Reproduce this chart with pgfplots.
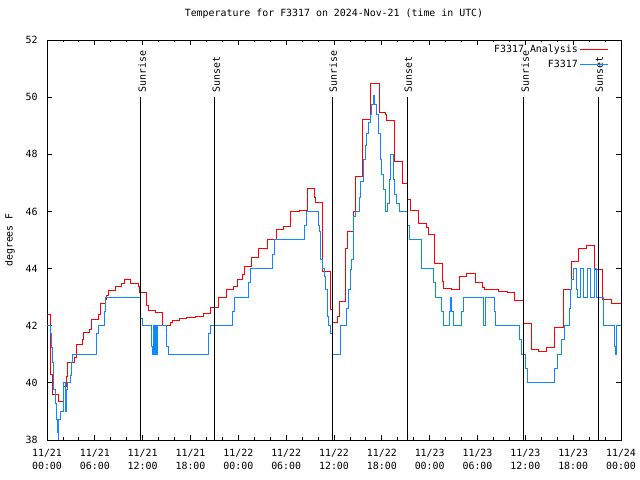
\documentclass[border=0pt]{standalone}
\usepackage{fontspec}
\setmainfont{DejaVu Sans Mono}
\usepackage{pgfplots}
\usepackage{pgfplotstable}
\pgfplotsset{compat=1.18}
\definecolor{obsblue}{RGB}{16,136,255}
\pgfplotstableread{
t v
0 42.4
0.5 40.3
0.63 39.6
1.5 39.34
2.05 39.87
2.47 40.22
2.55 40.72
3.39 40.89
3.64 41.35
4.47 41.5
4.56 41.77
5.39 41.88
5.64 42.22
6.48 42.4
6.65 42.67
6.73 42.78
7.28 42.9
7.49 43.07
7.69 43.22
8.53 43.37
9.37 43.48
9.7 43.6
10.5 43.46
11.46 43.37
11.58 43.17
12.5 42.7
12.71 42.54
13.55 42.45
14.51 42.01
15.43 42.1
15.76 42.19
16.6 42.26
17.52 42.29
18.57 42.33
19.61 42.42
20.53 42.64
21.49 42.98
22.54 43.27
23.37 43.37
23.87 43.6
24.55 43.78
24.75 44.07
25.67 44.39
26.51 44.71
27.68 45.02
28.73 45.37
29.64 45.47
30.57 45.99
31.65 46.03
32.65 46.81
33.53 46.5
33.74 46.32
34.58 43.9
35.5 42.55
35.79 42.12
36.46 42.32
36.67 42.84
37.47 44.71
37.63 45.31
38.43 46.0
38.64 47.22
39.6 49.2
40.64 50.48
41.65 49.46
42.4 49.38
42.61 49.18
43.53 47.74
44.57 46.98
45.2 46.4
45.6 46.02
46.58 45.58
47.54 45.45
47.83 45.2
48.59 44.16
49.59 43.54
49.72 43.31
50.68 43.25
51.72 43.72
52.65 43.83
53.69 43.51
54.65 43.35
54.82 43.27
56.61 43.2
57.74 43.15
58.62 42.88
59.75 42.08
60.71 41.15
61.63 41.11
62.68 41.24
63.72 41.94
64.77 43.27
65.73 44.24
66.73 44.71
67.7 44.79
68.65 43.95
69.7 42.9
70.83 42.78
72 42.78
}\analysis
\pgfplotstableread{
t v
0 42
0.5 41.73
0.59 41.24
0.71 40.7
0.84 39.77
1.05 39.26
1.21 38.72
1.34 38.26
1.42 38.0
1.5 38.72
1.67 39.0
2.05 40.0
2.3 39.0
2.47 39.75
2.63 40.0
2.89 40.24
3.05 40.7
3.18 41.0
6.23 41.73
6.44 42.0
7.19 42.5
7.36 43.0
11.79 42.26
12.0 42.0
13.05 41.27
13.2 41.0
13.34 42.0
13.46 41.0
13.6 42.0
13.7 41.0
13.85 42.0
15.01 41.27
15.22 41.0
20.24 41.73
20.45 42.0
23.25 42.5
23.5 43.0
25.26 43.5
25.51 44.0
28.27 44.5
28.52 45.0
32.28 45.5
32.57 46.0
34.04 45.5
34.16 45.29
34.33 44.3
34.5 44.0
34.75 43.72
34.96 43.25
35.16 42.32
35.37 42.0
35.58 41.73
35.79 41.0
36.84 42.0
37.59 42.6
37.8 43.25
38.01 43.95
38.22 44.3
38.43 45.82
38.64 46.0
39.18 46.5
39.3 47.04
39.68 47.8
39.9 48.3
40.1 48.73
40.3 49.1
40.52 49.38
40.72 49.73
40.93 50.04
41.14 49.73
41.35 49.38
41.56 48.73
41.77 47.8
41.98 47.3
42.19 46.75
42.4 46.28
42.52 46.0
42.7 46.28
42.9 47.1
43.11 48.0
43.44 47.1
43.65 46.6
43.78 46.28
44.2 46.0
45.2 45.5
45.45 45.02
47.0 44.0
48.46 43.5
48.75 43.0
49.51 42.5
49.72 42.0
50.47 42.5
50.64 43.0
50.76 42.5
50.97 42.0
52.02 42.5
52.23 43.0
54.73 42.0
55.0 43.0
56.11 42.5
56.28 42.0
59.25 41.5
59.46 41.0
59.96 40.5
60.25 40.0
63.72 40.5
64.06 41.0
64.56 41.5
64.85 42.0
65.48 42.6
65.69 43.25
65.85 43.6
66.02 44.0
66.36 43.25
66.5 43.0
66.86 44.0
67.27 43.0
67.78 44.0
68.2 43.0
68.65 44.0
68.95 43.0
69.78 42.0
71.16 41.27
71.33 41.0
71.46 42.0
72 42.0
}\observed
\begin{document}
\fontsize{9.95}{12}\selectfont
\begin{tikzpicture}[x=1bp,y=1bp]
\useasboundingbox (0,0) rectangle (640,480);
\begin{axis}[
  at={(47bp,40bp)}, anchor=south west, scale only axis,
  width=574bp, height=400bp,
  xmin=0, xmax=72, ymin=38, ymax=52,
  xtick={0,6,...,72}, minor x tick num=2,
  xticklabels={{11/21\\00:00},{11/21\\06:00},{11/21\\12:00},{11/21\\18:00},{11/22\\00:00},{11/22\\06:00},{11/22\\12:00},{11/22\\18:00},{11/23\\00:00},{11/23\\06:00},{11/23\\12:00},{11/23\\18:00},{11/24\\00:00}},
  xticklabel style={align=center, font=\fontsize{9.95}{13}\selectfont, yshift=-6bp},
  ytick={38,40,...,52},
  yticklabel style={font=\fontsize{9.95}{12}\selectfont, xshift=-6bp},
  /pgf/number format/assume math mode=true,
  major tick length=5bp, minor tick length=2.5bp,
  tick style={black, line width=0.8bp},
  axis line style={line width=0.9bp},
  ylabel={degrees F},
  ylabel style={at={(axis description cs:-0.0645,0.5)}, anchor=center, font=\fontsize{9.95}{12}\selectfont},
  title={Temperature for F3317 on 2024-Nov-21 (time in UTC)},
  title style={at={(axis description cs:0.5,1)}, anchor=center, yshift=20bp, font=\fontsize{9.95}{12}\selectfont},
  legend style={draw=none, fill=none, at={(axis description cs:0.979,0.993)}, anchor=north east, font=\fontsize{9.95}{12}\selectfont, row sep=2bp, inner sep=0pt},
  legend cell align=right, legend plot pos=right,
  legend image code/.code={\draw[#1] (0bp,0bp) -- (28bp,0bp);},
]
\addplot[const plot, red, line width=1bp] table[x=t, y=v] {\analysis};
\addlegendentry{F3317 Analysis}
\addplot[const plot, obsblue, line width=1bp] table[x=t, y=v] {\observed};
\addlegendentry{F3317}
\addplot[black, line width=1bp, forget plot] coordinates {(11.79,38) (11.79,50)};
\addplot[black, line width=1bp, forget plot] coordinates {(21.07,38) (21.07,50)};
\addplot[black, line width=1bp, forget plot] coordinates {(35.75,38) (35.75,50)};
\addplot[black, line width=1bp, forget plot] coordinates {(45.16,38) (45.16,50)};
\addplot[black, line width=1bp, forget plot] coordinates {(59.83,38) (59.83,50)};
\addplot[black, line width=1bp, forget plot] coordinates {(69.12,38) (69.12,50)};
\node[rotate=90, anchor=west, inner sep=0pt] at (axis cs:11.95,50.15) {Sunrise};
\node[rotate=90, anchor=west, inner sep=0pt] at (axis cs:21.23,50.15) {Sunset};
\node[rotate=90, anchor=west, inner sep=0pt] at (axis cs:35.91,50.15) {Sunrise};
\node[rotate=90, anchor=west, inner sep=0pt] at (axis cs:45.32,50.15) {Sunset};
\node[rotate=90, anchor=west, inner sep=0pt] at (axis cs:59.99,50.15) {Sunrise};
\node[rotate=90, anchor=west, inner sep=0pt] at (axis cs:69.28,50.15) {Sunset};
\end{axis}
\end{tikzpicture}
\end{document}
